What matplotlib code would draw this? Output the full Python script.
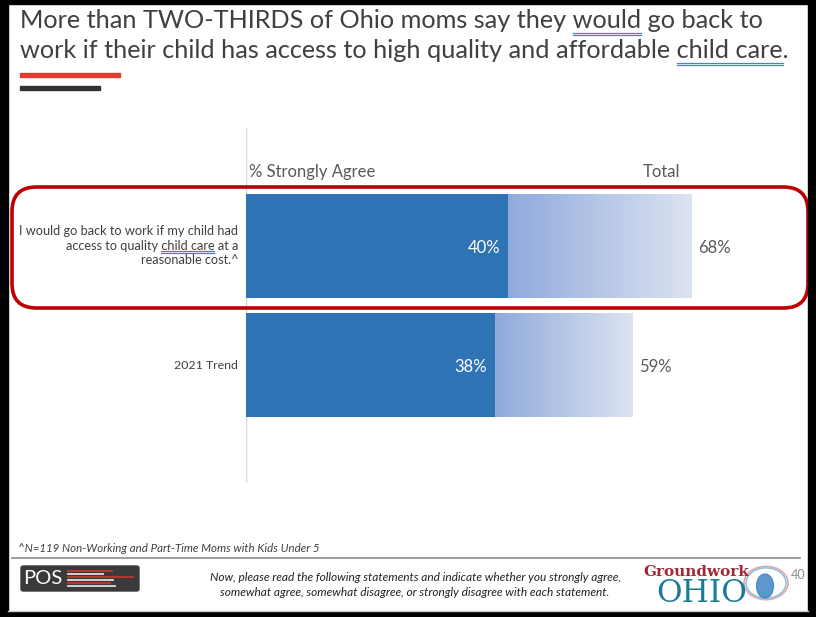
import numpy as np
import matplotlib.pyplot as plt
from matplotlib.patches import FancyBboxPatch, Rectangle, Circle, Ellipse
from matplotlib.colors import LinearSegmentedColormap

plt.rcParams['font.family'] = ['Lato', 'DejaVu Sans']

# data
labels = ["I would go back to work if my child had\naccess to quality child care at a\nreasonable cost.^",
          "2021 Trend"]
strongly = [40, 38]
total = [68, 59]
title_lines = ["More than TWO-THIRDS of Ohio moms say they would go back to",
               "work if their child has access to high quality and affordable child care."]

W, H = 816, 617
fig = plt.figure(figsize=(W / 100, H / 100), dpi=100)


def fx(x):
    return x / W


def fy(y):
    return 1 - y / H


# axes: x=0 at px 246, 6.55 px per %
ax = fig.add_axes([fx(246), fy(483), (770 - 246) / W, (483 - 128) / H])
ax.axis('off')
ax.axvline(0, color='#d9d9d9', lw=1)

blue = '#2e74b5'
grad = LinearSegmentedColormap.from_list('g', ['#8faadc', '#dce3f1'])
bh = 0.87
label_texts = []
for i in range(len(labels)):
    ax.barh(i, strongly[i], height=bh, color=blue, zorder=3)
    g = np.linspace(0, 1, 256).reshape(1, -1)
    ax.imshow(g, cmap=grad, aspect='auto', zorder=2,
              extent=[strongly[i], total[i], i + bh / 2, i - bh / 2])
    ax.text(strongly[i] - 1.2, i + 0.02, f"{strongly[i]}%", color='white', fontsize=12,
            ha='right', va='center', zorder=4)
    ax.text(total[i] + 1.0, i + 0.02, f"{total[i]}%", color='#595959', fontsize=12,
            ha='left', va='center')
    label_texts.append(ax.text(-1.2, i, labels[i], ha='right', va='center',
                               fontsize=9.2 if i == 0 else 8.9,
                               color='#404040', linespacing=1.25))
ax.set_xlim(0, 80)
ax.set_ylim(1.99, -0.99)

# column headers
fig.text(fx(249), fy(172), "% Strongly Agree", fontsize=12, color='#595959', va='center')
fig.text(fx(643), fy(172), "Total", fontsize=12, color='#595959', va='center')

# highlight box
fig.patches.append(FancyBboxPatch((fx(12), fy(308)), fx(808) - fx(12), fy(187) - fy(308),
                                  boxstyle="round,pad=0,rounding_size=0.03",
                                  transform=fig.transFigure, fill=False,
                                  ec='#c00000', lw=2.6, mutation_aspect=W / H))

# title
tfs = 18.2
t_objs = [fig.text(fx(20), fy(20), title_lines[0], fontsize=tfs, color='#404040', va='center'),
          fig.text(fx(20), fy(50), title_lines[1], fontsize=tfs, color='#404040', va='center')]
fig.patches.append(Rectangle((fx(20), fy(77)), fx(120) - fx(20), 4 / H, color='#e03c31',
                             transform=fig.transFigure))
fig.patches.append(Rectangle((fx(20), fy(90)), fx(100) - fx(20), 4 / H, color='#333333',
                             transform=fig.transFigure))

# footer
fig.text(fx(18), fy(548), "^N=119 Non-Working and Part-Time Moms with Kids Under 5",
         fontsize=8.3, style='italic', color='#404040', va='center')
fig.add_artist(plt.Line2D([fx(12), fx(800)], [fy(558), fy(558)], color='#8c8c8c', lw=1.2))
fig.text(fx(415), fy(585), "Now, please read the following statements and indicate whether you strongly agree,\n"
         "somewhat agree, somewhat disagree, or strongly disagree with each statement.",
         fontsize=8.6, style='italic', color='#222222', ha='center', va='center', linespacing=1.35)

# POS logo
fig.patches.append(FancyBboxPatch((fx(21), fy(591)), fx(139) - fx(21), fy(566) - fy(591),
                                  boxstyle="round,pad=0,rounding_size=0.003",
                                  transform=fig.transFigure, color='#3a3a3a'))
fig.text(fx(23), fy(579), "POS", fontsize=14.5, color='white', va='center')
for yy, x1, c in [(571, 112, '#c0392b'), (574, 103, '#dddddd'), (577, 133, '#c0392b'),
                  (580, 113, '#dddddd'), (583, 110, '#c0392b'), (586, 115, '#dddddd')]:
    fig.add_artist(plt.Line2D([fx(68), fx(x1)], [fy(yy), fy(yy)], color=c, lw=1.3))

# Groundwork OHIO logo
fig.patches.append(Circle((fx(766), fy(583)), 22 / W, transform=fig.transFigure,
                          fill=False, ec='#e6a4ad', lw=1.2))
fig.patches.append(Circle((fx(766), fy(583)), 20 / W, transform=fig.transFigure,
                          fill=False, ec='#7fc0d8', lw=1))
fig.patches.append(Ellipse((fx(765), fy(586)), 17 / W, 24 / H, transform=fig.transFigure,
                           color='#3f86c6', alpha=0.85))
fig.text(fx(643), fy(572), "Groundwork", fontsize=11, fontweight='bold', family='DejaVu Serif',
         color='#9e2a3a', va='center')
fig.text(fx(656), fy(594), "OHIO", fontsize=22.5, family='DejaVu Serif', color='#1b7a96', va='center')
fig.text(fx(791), fy(575), "40", fontsize=9, color='#8c8c8c', va='center')

# frame
fig.add_artist(plt.Line2D([fx(8), fx(808)], [fy(611), fy(611)], color='#cccccc', lw=1))
for r in [(0, 0, 8, H), (808, 0, 8, H), (0, 0, W, 4), (0, 612, W, 5)]:
    fig.patches.append(Rectangle((fx(r[0]), fy(r[1] + r[3])), r[2] / W, r[3] / H,
                                 color='black', transform=fig.transFigure))

# blue double underlines (spell-check style)
fig.canvas.draw()
rend = fig.canvas.get_renderer()


def underline(txt_obj, line_str, word, ybase, size):
    bb = txt_obj.get_window_extent(rend)
    pre = line_str[:line_str.index(word)]
    t1 = fig.text(0, 0, pre, fontsize=size)
    t2 = fig.text(0, 0, pre + word, fontsize=size)
    w1 = t1.get_window_extent(rend).width
    w2 = t2.get_window_extent(rend).width
    t1.remove()
    t2.remove()
    if txt_obj.get_ha() == 'right':
        full = fig.text(0, 0, line_str, fontsize=size)
        x0 = bb.x1 - full.get_window_extent(rend).width
        full.remove()
    else:
        x0 = bb.x0
    for dy in (0, 2):
        fig.add_artist(plt.Line2D([(x0 + w1) / W, (x0 + w2) / W], [fy(ybase + dy)] * 2,
                                  color='#4a7fe0', lw=0.9))


underline(t_objs[0], title_lines[0], "would", 33, tfs)
underline(t_objs[1], title_lines[1], "child care", 63, tfs)
underline(label_texts[0], "access to quality child care at a", "child care", 251, 9.2)

fig.savefig("out.png", dpi=100)
